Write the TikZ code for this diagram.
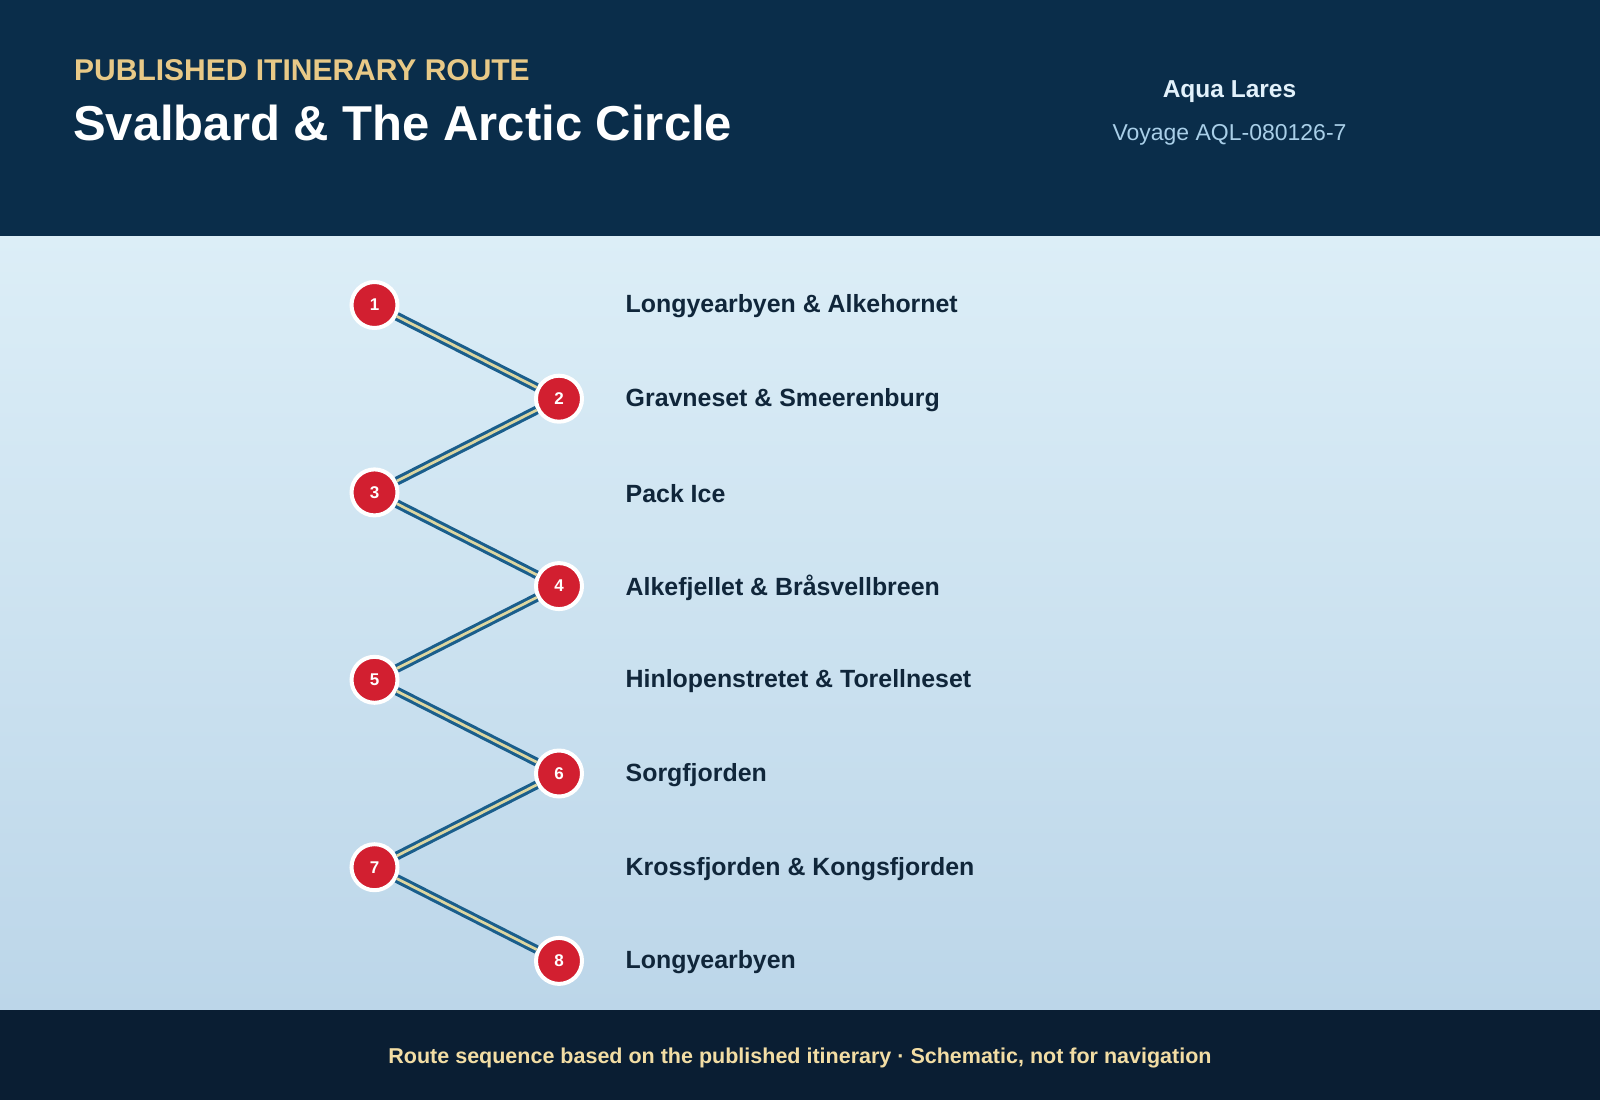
\documentclass[tikz,border=0pt]{standalone}
\usepackage{fontspec}
\setmainfont{Liberation Sans}
\definecolor{hdr}{HTML}{0A2D4A}
\definecolor{ftr}{HTML}{0A1E33}
\definecolor{bgtop}{HTML}{DCEEF7}
\definecolor{bgbot}{HTML}{BCD6E9}
\definecolor{gold}{HTML}{E8C987}
\definecolor{pale}{HTML}{E2F1FB}
\definecolor{skyt}{HTML}{A9CFE8}
\definecolor{ink}{HTML}{10263A}
\definecolor{stopred}{HTML}{D21F30}
\definecolor{routeblue}{HTML}{1A5E8C}
\definecolor{routecore}{HTML}{DCD6A0}
\definecolor{foottxt}{HTML}{F2DDA4}
\tikzset{
  stopnode/.style={circle, fill=stopred, draw=white, line width=4pt, minimum size=46pt, inner sep=0pt,
    text=white, font=\fontsize{17}{20}\selectfont\bfseries},
  stoplabel/.style={anchor=west, text=ink, inner sep=0pt, font=\fontsize{24.9}{29}\selectfont\bfseries},
  route/.style={draw=routeblue, line width=3.1pt, double=routecore, double distance=2.7pt}
}
\begin{document}
\begin{tikzpicture}[x=1pt,y=-1pt]
\useasboundingbox (0,0) rectangle (1600,1100);
\shade[top color=bgtop, bottom color=bgbot] (0,235) rectangle (1600,1010);
\fill[hdr] (0,0) rectangle (1600,235.5);
\fill[ftr] (0,1009.5) rectangle (1600,1100);
% header
\node[anchor=base west, inner sep=0pt, text=gold, font=\fontsize{30}{36}\selectfont\bfseries] (kicker) at (74,80) {PUBLISHED ITINERARY ROUTE};
\node[anchor=base west, inner sep=0pt, text=white, font=\fontsize{49}{58}\selectfont\bfseries] (title) at (73,140) {Svalbard \& The Arctic Circle};
\node[anchor=base, inner sep=0pt, text=pale, font=\fontsize{24.5}{29}\selectfont\bfseries] (ship) at (1229.5,97) {Aqua Lares};
\node[anchor=base, inner sep=0pt, text=skyt, font=\fontsize{23}{28}\selectfont] (voy) at (1229.5,140) {Voyage AQL-080126-7};
% stops
\foreach \i/\x/\lab in {1/374.5/{Longyearbyen \& Alkehornet},2/559/{Gravneset \& Smeerenburg},3/374.5/{Pack Ice},4/559/{Alkefjellet \& Bråsvellbreen},5/374.5/{Hinlopenstretet \& Torellneset},6/559/{Sorgfjorden},7/374.5/{Krossfjorden \& Kongsfjorden},8/559/{Longyearbyen}}{
  \pgfmathsetmacro{\yy}{305+(\i-1)*93.7}
  \node[stopnode] (s\i) at (\x,\yy) {\i};
  \node[stoplabel] (l\i) at (625.5,\yy+1.5) {\lab};
}
\foreach \a/\b in {1/2,2/3,3/4,4/5,5/6,6/7,7/8}{
  \draw[route] (s\a) -- (s\b);
}
% footer
\node[text=foottxt, inner sep=0pt, font=\fontsize{21.5}{25}\selectfont\bfseries] (foot) at (800,1057.5) {Route sequence based on the published itinerary · Schematic, not for navigation};
\end{tikzpicture}
\end{document}
